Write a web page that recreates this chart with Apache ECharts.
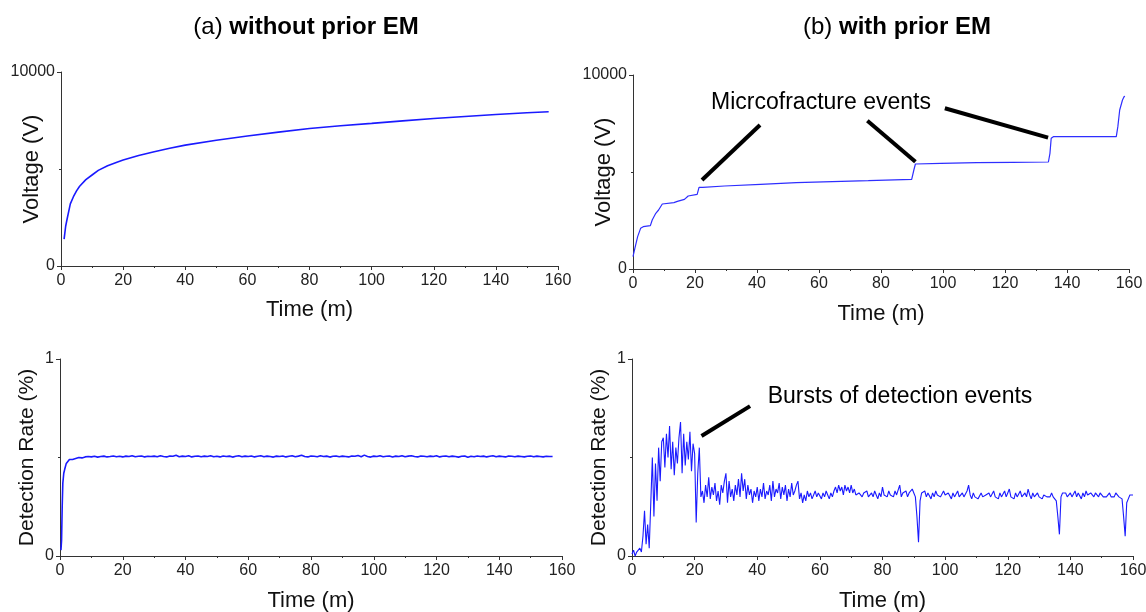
<!DOCTYPE html>
<html><head><meta charset="utf-8">
<script src="https://cdn.jsdelivr.net/npm/echarts@6/dist/echarts.min.js"></script>
<style>html,body{margin:0;padding:0;background:#fff}#c{width:1146px;height:612px}</style>
</head><body><div id="c"></div>
<script>
// ---- Data ----
var xTicks = [0, 20, 40, 60, 80, 100, 120, 140, 160];
var voltYTicks = [0, 10000];
var rateYTicks = [0, 1];

// (a) without prior EM : voltage
var voltATime = [1.0,1.5,2,3,4,5,6,8,10,12,15,18,20,25,30,35,40,50,60,70,80,90,100,110,120,130,140,150,157];
var voltAValue = [1390,2050,2450,3200,3570,3870,4110,4450,4690,4930,5170,5350,5460,5700,5890,6070,6230,6480,6700,6900,7090,7230,7350,7480,7600,7710,7810,7900,7950];

// (b) with prior EM : voltage
var voltBTime = [0,0.6,1.5,2.45,3.3,5.6,6.2,7.35,8.25,9.45,13.2,14.3,16.6,17.8,20.7,21.3,22.5,29.5,41.1,52.7,64.3,75.9,89.9,90.6,91.1,99.3,110.9,122.5,134.0,134.5,134.9,135.6,146.6,155.9,156.4,157.0,157.9,158.4,158.7];
var voltBValue = [634,1065,1667,2096,2182,2234,2526,2869,3041,3351,3420,3488,3591,3763,3849,4210,4210,4278,4364,4450,4502,4553,4622,5103,5412,5447,5481,5498,5515,5962,6735,6821,6821,6821,7337,8196,8711,8883,8900];

// (a) detection rate: early rise, then sampled every 1 min from t=10
var rateAEarlyTime = [0.3,0.5,0.7,0.9,1.2,1.5,2.0,2.5,3.0,4.0,5.0,6.0,7.0,8.0,9.0];
var rateAEarlyValue = [0.03,0.08,0.25,0.37,0.42,0.44,0.47,0.48,0.49,0.49,0.495,0.50,0.498,0.503,0.505];
var rateATailStart = 10, rateATailStep = 1;
var rateATail = [
0.503,0.506,0.502,0.505,0.507,0.503,0.505,0.508,0.504,0.506,0.503,0.507,0.505,0.509,0.504,0.506,0.508,0.503,0.506,0.505,
0.507,0.504,0.509,0.505,0.503,0.508,0.506,0.511,0.504,0.507,0.505,0.509,0.503,0.506,0.508,0.504,0.507,0.505,0.509,0.504,
0.506,0.503,0.508,0.505,0.507,0.502,0.506,0.509,0.504,0.507,0.505,0.508,0.503,0.506,0.509,0.504,0.507,0.505,0.502,0.507,
0.505,0.508,0.503,0.506,0.509,0.504,0.507,0.511,0.505,0.503,0.508,0.506,0.504,0.509,0.505,0.507,0.502,0.506,0.508,0.504,
0.507,0.505,0.503,0.508,0.506,0.510,0.504,0.512,0.505,0.502,0.507,0.505,0.509,0.504,0.506,0.508,0.503,0.507,0.505,0.509,
0.504,0.507,0.509,0.505,0.503,0.508,0.506,0.504,0.507,0.505,0.509,0.503,0.506,0.508,0.504,0.507,0.505,0.502,0.506,0.508,
0.501,0.506,0.504,0.508,0.505,0.507,0.503,0.506,0.509,0.504,0.507,0.505,0.503,0.508,0.506,0.504,0.507,0.505,0.503,0.506,
0.508,0.504,0.507,0.505,0.503,0.506,0.505,0.505];

// (b) detection rate sampled every 0.5 min from t=0
var rateBStart = 0, rateBStep = 0.5;
var rateB = [
0.01,0.03,0.00,0.02,0.01,0.04,0.02,0.10,0.23,0.06,0.16,0.04,0.03,0.50,0.20,0.47,0.28,0.55,0.38,0.58,
0.60,0.45,0.62,0.50,0.66,0.44,0.58,0.41,0.55,0.47,0.60,0.68,0.42,0.62,0.46,0.58,0.49,0.63,0.43,0.57,
0.52,0.17,0.42,0.55,0.30,0.33,0.27,0.36,0.30,0.40,0.29,0.35,0.31,0.37,0.28,0.33,0.26,0.36,0.32,0.38,
0.42,0.27,0.38,0.30,0.34,0.28,0.36,0.31,0.39,0.30,0.42,0.33,0.39,0.29,0.36,0.31,0.34,0.27,0.33,0.30,
0.35,0.28,0.34,0.30,0.37,0.29,0.33,0.31,0.36,0.28,0.38,0.30,0.34,0.32,0.37,0.29,0.35,0.31,0.36,0.28,
0.34,0.30,0.37,0.31,0.33,0.36,0.38,0.29,0.32,0.27,0.31,0.28,0.33,0.30,0.32,0.29,0.31,0.33,0.30,0.32,
0.31,0.29,0.32,0.30,0.33,0.31,0.29,0.32,0.30,0.33,0.35,0.32,0.36,0.33,0.35,0.31,0.36,0.33,0.35,0.32,
0.36,0.32,0.34,0.31,0.30,0.32,0.31,0.30,0.32,0.31,0.33,0.30,0.31,0.32,0.30,0.33,0.31,0.29,0.32,0.30,
0.35,0.31,0.32,0.30,0.33,0.31,0.32,0.30,0.33,0.31,0.32,0.36,0.30,0.32,0.31,0.33,0.30,0.32,0.31,0.34,
0.32,0.30,0.20,0.07,0.28,0.32,0.31,0.33,0.30,0.32,0.31,0.29,0.32,0.30,0.33,0.31,0.32,0.30,0.31,0.33,
0.31,0.30,0.32,0.31,0.29,0.32,0.30,0.31,0.33,0.30,0.31,0.32,0.30,0.31,0.33,0.36,0.31,0.29,0.32,0.30,
0.31,0.29,0.30,0.32,0.30,0.29,0.31,0.30,0.32,0.30,0.31,0.33,0.30,0.31,0.29,0.32,0.30,0.31,0.33,0.30,
0.32,0.34,0.30,0.31,0.29,0.32,0.30,0.31,0.33,0.30,0.31,0.32,0.30,0.34,0.31,0.29,0.32,0.30,0.31,0.32,
0.30,0.31,0.29,0.31,0.32,0.30,0.31,0.30,0.32,0.30,0.31,0.28,0.20,0.11,0.30,0.32,0.31,0.32,0.30,0.31,
0.32,0.30,0.31,0.33,0.30,0.32,0.31,0.29,0.32,0.30,0.33,0.31,0.30,0.32,0.31,0.30,0.32,0.31,0.30,0.32,
0.31,0.30,0.31,0.30,0.31,0.32,0.30,0.31,0.30,0.32,0.31,0.30,0.31,0.29,0.20,0.10,0.27,0.29,0.31,0.30,0.31];

// annotation pointer lines, in data coordinates [time, value]
var microLines = [
  [[40.97, 7423], [22.26, 4588]],
  [[75.6, 7644], [91.1, 5531]],
  [[100.6, 8284], [133.9, 6768]]
];
var burstLines = [
  [[37.7, 0.761], [22.2, 0.609]]
];

// ---- Build ----
function zip(t, v) { return t.map(function (x, i) { return [x, v[i]]; }); }
function grid(t, v, s) { return v.map(function (y, i) { return [t + i * s, y]; }); }

var FONT = '"Liberation Sans", Arial, sans-serif';
var AX = '#333';
function plain(v) { return String(v); }

function xAxis(idx, gap) {
  return {
    gridIndex: idx, type: 'value', min: 0, max: 160, interval: 20,
    name: 'Time (m)', nameLocation: 'middle', nameGap: gap, nameMoveOverlap: false,
    nameTextStyle: { fontSize: 22, color: '#111', fontFamily: FONT },
    axisLine: { show: true, lineStyle: { color: AX, width: 1 } },
    axisTick: { show: true, inside: false, length: 4, lineStyle: { color: AX } },
    minorTick: { show: true, splitNumber: 2, length: 2, lineStyle: { color: AX } },
    splitLine: { show: false }, minorSplitLine: { show: false },
    axisLabel: { fontSize: 16, color: '#222', margin: 7, fontFamily: FONT, formatter: plain, showMaxLabel: true, showMinLabel: true }
  };
}
function yAxis(idx, max, name, gap, fs) {
  return {
    gridIndex: idx, type: 'value', min: 0, max: max, interval: max,
    name: name, nameLocation: 'middle', nameGap: gap, nameRotate: 90, nameMoveOverlap: false,
    nameTextStyle: { fontSize: fs, color: '#111', fontFamily: FONT },
    axisLine: { show: true, lineStyle: { color: AX, width: 1 } },
    axisTick: { show: true, inside: false, length: 4, lineStyle: { color: AX } },
    minorTick: { show: true, splitNumber: 2, length: 2, lineStyle: { color: AX } },
    splitLine: { show: false }, minorSplitLine: { show: false },
    axisLabel: { fontSize: 16, color: '#222', margin: 6, fontFamily: FONT, formatter: plain }
  };
}
function markLines(list) {
  return {
    silent: true, symbol: 'none', animation: false,
    label: { show: false },
    lineStyle: { color: '#000', width: 4, type: 'solid', opacity: 1 },
    emphasis: { disabled: true },
    data: list.map(function (l) { return [{ coord: l[0] }, { coord: l[1] }]; })
  };
}

var rateAData = zip(rateAEarlyTime, rateAEarlyValue).concat(grid(rateATailStart, rateATail, rateATailStep));

var option = {
  animation: false,
  backgroundColor: '#fff',
  textStyle: { fontFamily: FONT },
  grid: [
    { left: 61, top: 72, width: 497, height: 194, outerBoundsMode: 'none', containLabel: false },
    { left: 633, top: 75, width: 496, height: 194, outerBoundsMode: 'none', containLabel: false },
    { left: 60, top: 359, width: 502, height: 197, outerBoundsMode: 'none', containLabel: false },
    { left: 632, top: 359, width: 501, height: 197, outerBoundsMode: 'none', containLabel: false }
  ],
  xAxis: [xAxis(0, 33), xAxis(1, 34), xAxis(2, 34), xAxis(3, 34)],
  yAxis: [
    yAxis(0, 10000, 'Voltage (V)', 18, 22),
    yAxis(1, 10000, 'Voltage (V)', 18, 22),
    yAxis(2, 1, 'Detection Rate (%)', 22, 21),
    yAxis(3, 1, 'Detection Rate (%)', 22, 21)
  ],
  series: [
    { type: 'line', xAxisIndex: 0, yAxisIndex: 0, showSymbol: false, data: zip(voltATime, voltAValue),
      lineStyle: { color: '#1a1aff', width: 1.6 }, itemStyle: { color: '#1a1aff' } },
    { type: 'line', xAxisIndex: 1, yAxisIndex: 1, showSymbol: false, data: zip(voltBTime, voltBValue),
      lineStyle: { color: '#2e2eff', width: 1.2 }, itemStyle: { color: '#2e2eff' },
      markLine: markLines(microLines) },
    { type: 'line', xAxisIndex: 2, yAxisIndex: 2, showSymbol: false, data: rateAData,
      lineStyle: { color: '#1a1aff', width: 1.6 }, itemStyle: { color: '#1a1aff' } },
    { type: 'line', xAxisIndex: 3, yAxisIndex: 3, showSymbol: false, data: grid(rateBStart, rateB, rateBStep),
      lineStyle: { color: '#1a1aff', width: 1.1 }, itemStyle: { color: '#1a1aff' },
      markLine: markLines(burstLines) }
  ],
  graphic: [
    { type: 'text', x: 306, y: 27, silent: true, style: {
        text: '{n|(a) }{b|without prior EM}', align: 'center', verticalAlign: 'middle', fill: '#000',
        rich: { n: { fontSize: 24, fontWeight: 'normal', fontFamily: FONT, fill: '#000' },
                b: { fontSize: 24, fontWeight: 'bold', fontFamily: FONT, fill: '#000' } } } },
    { type: 'text', x: 897, y: 27, silent: true, style: {
        text: '{n|(b) }{b|with prior EM}', align: 'center', verticalAlign: 'middle', fill: '#000',
        rich: { n: { fontSize: 24, fontWeight: 'normal', fontFamily: FONT, fill: '#000' },
                b: { fontSize: 24, fontWeight: 'bold', fontFamily: FONT, fill: '#000' } } } },
    { type: 'text', x: 821, y: 103, silent: true, style: {
        text: 'Micrcofracture events', align: 'center', verticalAlign: 'middle', fill: '#000',
        fontSize: 23, fontFamily: FONT } },
    { type: 'text', x: 900, y: 397, silent: true, style: {
        text: 'Bursts of detection events', align: 'center', verticalAlign: 'middle', fill: '#000',
        fontSize: 23, fontFamily: FONT } }
  ]
};

var chart = echarts.init(document.getElementById('c'), null, { renderer: 'canvas' });
chart.setOption(option);
</script>
</body></html>
